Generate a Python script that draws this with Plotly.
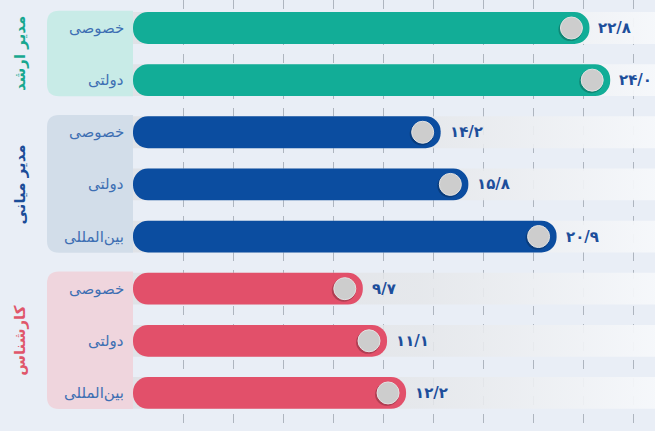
import plotly.graph_objects as go

# ---- data ----
GROUPS = ["مدیر ارشد", "مدیر میانی", "کارشناس"]
ROW_GROUP = [0, 0, 1, 1, 1, 2, 2, 2]
SECTORS = ["خصوصی", "دولتی", "خصوصی", "دولتی", "بین‌المللی", "خصوصی", "دولتی", "بین‌المللی"]
VALUES = [22.8, 24.0, 14.2, 15.8, 20.9, 9.7, 11.1, 12.2]
VALUE_LABELS = ["۲۲/۸", "۲۴/۰", "۱۴/۲", "۱۵/۸", "۲۰/۹", "۹/۷", "۱۱/۱", "۱۲/۲"]

# ---- style ----
BAR_COLORS = ["#12ad97", "#0b4da0", "#e2506a"]
PANEL_COLORS = ["#c8ebe7", "#d2dde9", "#efd5dd"]
TITLE_COLORS = ["#17a78f", "#1b4c98", "#e0566a"]
BG = "#e9eef6"
FONT = "DejaVu Sans"
PLOT_W = 522
PX_PER_UNIT = 17.3
X0 = -62 / PX_PER_UNIT          # bars start left of the zero point, as in the infographic
X1 = X0 + PLOT_W / PX_PER_UNIT
XRANGE = [X0, X1]
DTICK = 50 / PX_PER_UNIT
BAR_W = 0.61
YRANGE = [7.73, -0.537]

rows = list(range(len(VALUES)))
fig = go.Figure()

# background tracks (gradient), on the base axes
tx, ty = [], []
for i in rows:
    tx += [X0, X1, X1, X0, X0, None]
    ty += [i - BAR_W / 2, i - BAR_W / 2, i + BAR_W / 2, i + BAR_W / 2, i - BAR_W / 2, None]
fig.add_trace(go.Scatter(
    x=tx, y=ty, mode="lines", line=dict(width=0), fill="toself",
    fillgradient=dict(type="horizontal",
                      colorscale=[[0, "rgba(222,224,228,0.85)"], [0.55, "rgba(229,231,234,0.85)"],
                                  [1, "rgba(246,248,251,0.95)"]]),
    hoverinfo="skip", showlegend=False))

# bars, on overlaying axes so they sit above the tracks
fig.add_trace(go.Bar(
    x=[v - X0 for v in VALUES], base=X0, y=rows, orientation="h", width=BAR_W,
    xaxis="x2", yaxis="y2",
    marker=dict(color=[BAR_COLORS[g] for g in ROW_GROUP], cornerradius="50%", line=dict(width=0)),
    hoverinfo="skip", showlegend=False))

shapes = []
annotations = []

# knobs on bar ends + labels
for i, v in zip(rows, VALUES):
    shapes.append(dict(type="circle", xref="x", yref="y", xsizemode="pixel", ysizemode="pixel",
                       xanchor=v, yanchor=i, x0=-31, x1=-7, y0=-13, y1=10,
                       fillcolor="rgba(0,0,0,0.22)", line=dict(width=0), layer="above"))
    shapes.append(dict(type="circle", xref="x", yref="y", xsizemode="pixel", ysizemode="pixel",
                       xanchor=v, yanchor=i, x0=-29, x1=-7, y0=-11, y1=11,
                       fillcolor="#cdcdcd", line=dict(width=1, color="#e2e2e2"), layer="above"))
    annotations.append(dict(x=v, y=i, xref="x", yref="y", text=VALUE_LABELS[i], showarrow=False,
                            xanchor="left", xshift=7,
                            font=dict(family=FONT, size=15, color="#1d4e9b", weight="bold")))
    annotations.append(dict(x=0, y=i, xref="paper", yref="y", text=SECTORS[i], showarrow=False,
                            xanchor="right", xshift=-7,
                            font=dict(family=FONT, size=15, color="#3e6fb3")))

# group panels + titles
for g, name in enumerate(GROUPS):
    idx = [i for i in rows if ROW_GROUP[i] == g]
    top, bot = min(idx) - 0.33, max(idx) + 0.31
    ry = 0.23
    path = (f"M 0,{top} L -74,{top} Q -86,{top} -86,{top + ry} "
            f"L -86,{bot - ry} Q -86,{bot} -74,{bot} L 0,{bot} Z")
    shapes.append(dict(type="path", xref="paper", yref="y", xsizemode="pixel", xanchor=0,
                       path=path, fillcolor=PANEL_COLORS[g], line=dict(width=0), layer="below"))
    annotations.append(dict(x=0, y=sum(idx) / len(idx), xref="paper", yref="y", text=name,
                            showarrow=False, xanchor="center", xshift=-113, textangle=-90,
                            font=dict(family=FONT, size=15, color=TITLE_COLORS[g], weight="bold")))

fig.update_layout(
    width=655, height=431,
    margin=dict(l=133, r=0, t=0, b=0),
    paper_bgcolor=BG, plot_bgcolor=BG,
    barmode="overlay",
    shapes=shapes, annotations=annotations,
    xaxis=dict(range=XRANGE, showticklabels=False, zeroline=False, showline=False,
               showgrid=True, tick0=X0, dtick=DTICK, gridcolor="#aeb5bf", griddash="dash",
               gridwidth=1),
    yaxis=dict(range=YRANGE, showticklabels=False, showgrid=False, zeroline=False, showline=False),
    xaxis2=dict(range=XRANGE, overlaying="x", showticklabels=False, showgrid=False,
                zeroline=False, showline=False),
    yaxis2=dict(range=YRANGE, overlaying="y", showticklabels=False, showgrid=False,
                zeroline=False, showline=False),
)

fig.write_html("out.html", config={"displayModeBar": False},
               post_script="document.body.style.margin='0';")
